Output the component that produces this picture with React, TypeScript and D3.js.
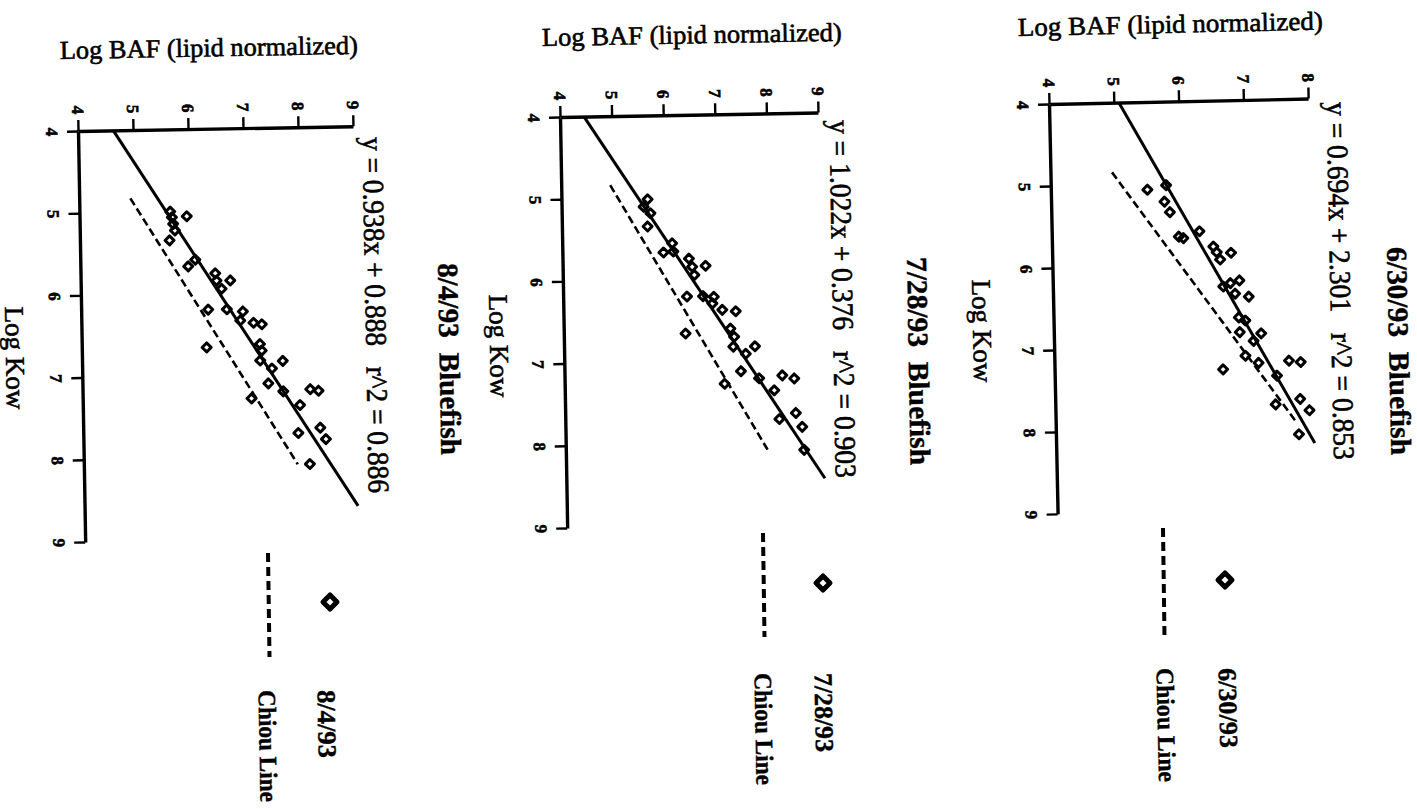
import React, { useRef, useEffect } from 'react';
import * as d3 from 'd3';

// axis ticks
const kowTicks = [4, 5, 6, 7, 8, 9];
const bafTicksTo9 = [4, 5, 6, 7, 8, 9];
const bafTicksTo8 = [4, 5, 6, 7, 8];

// sampling dates (panel order left -> right)
const dates = ['8/4/93', '7/28/93', '6/30/93'];
const equations = [
  'y = 0.938x + 0.888   r^2 = 0.886',
  'y = 1.022x + 0.376   r^2 = 0.903',
  'y = 0.694x + 2.301   r^2 = 0.853',
];

// [log Kow, log BAF]
const points080493 = [
  [5.0, 5.65], [5.07, 5.68], [5.15, 5.7], [5.23, 5.73], [5.06, 5.95], [5.35, 5.63],
  [5.59, 6.09], [5.67, 5.96], [5.76, 6.45], [5.85, 6.47], [5.85, 6.72], [5.95, 6.56],
  [6.2, 6.65], [6.2, 6.31], [6.23, 6.94], [6.34, 6.89], [6.37, 7.13], [6.39, 7.28],
  [6.66, 6.27], [6.63, 7.24], [6.71, 7.27], [6.83, 7.24], [6.84, 7.65], [6.93, 7.45],
  [7.11, 7.38], [7.21, 7.65], [7.19, 8.14], [7.21, 8.29], [7.38, 7.95], [7.29, 7.07],
  [7.72, 7.91], [7.66, 8.31], [7.8, 8.41], [8.1, 8.11],
];
const points072893 = [
  [5.02, 5.67], [5.11, 5.59], [5.19, 5.72], [5.35, 5.66], [5.56, 6.13], [5.66, 6.15],
  [5.67, 5.96], [5.75, 6.45], [5.85, 6.51], [5.84, 6.77], [5.95, 6.55], [6.21, 6.4],
  [6.21, 6.71], [6.22, 6.92], [6.3, 6.89], [6.38, 7.08], [6.4, 7.34], [6.66, 6.36],
  [6.61, 7.23], [6.71, 7.3], [6.83, 7.28], [6.92, 7.52], [6.83, 7.7], [7.13, 7.42],
  [7.28, 7.1], [7.22, 7.77], [7.37, 8.06], [7.19, 8.22], [7.23, 8.45], [7.72, 8.15],
  [7.65, 8.47], [7.82, 8.59], [8.1, 8.62],
];
const points063093 = [
  [5.07, 5.49], [5.02, 5.78], [5.22, 5.75], [5.35, 5.83], [5.65, 5.96], [5.67, 6.03],
  [5.59, 6.28], [5.78, 6.49], [5.85, 6.54], [5.94, 6.59], [5.86, 6.76], [6.27, 6.63],
  [6.23, 6.74], [6.2, 6.88], [6.36, 6.81], [6.4, 7.02], [6.65, 6.86], [6.69, 6.96],
  [6.83, 6.87], [6.94, 7.08], [6.85, 7.2], [7.12, 6.95], [7.21, 7.15], [7.28, 6.6],
  [7.19, 7.62], [7.21, 7.8], [7.37, 7.43], [7.72, 7.4], [7.66, 7.78], [7.8, 7.92],
  [8.09, 7.75],
];

// regression [slope, intercept] and the log Kow span of the drawn line
const fits = [[0.938, 0.888], [1.022, 0.376], [0.694, 2.301]];
const fitSpans = [[4, 8.62], [4, 8.45], [4, 8.2]];

// Chiou line ends [log Kow, log BAF]
const chiou080493 = [[4.83, 4.93], [8.1, 7.89]];
const chiou072893 = [[4.84, 4.95], [8.09, 7.91]];
const chiou063093 = [[4.85, 4.95], [7.96, 7.73]];

const W = 1417;
const H = 809;
const serif = '"Liberation Serif", "Times New Roman", serif';

const panels = [
  {
    points: points080493, chiou: chiou080493, bafTicks: bafTicksTo9,
    ox: 78, oy: 131, bafStep: 55, kowStep: 82.2, tilt: -1,
    bafTitle: [60, 59, 298], kowTitle: [15, 358], eq: [373, 137, 356], title: [448, 263, 192],
    mark: [330, 602], dash: [268, 553, 657], dateText: [326, 690, 68], chiouText: [267, 690, 112],
  },
  {
    points: points072893, chiou: chiou072893, bafTicks: bafTicksTo9,
    ox: 560, oy: 117, bafStep: 51.6, kowStep: 82.2, tilt: -1,
    bafTitle: [542, 46, 300], kowTitle: [499, 346], eq: [840, 120, 358], title: [917, 257, 208],
    mark: [823, 583], dash: [763, 533, 637], dateText: [823, 673, 79], chiouText: [763, 673, 112],
  },
  {
    points: points063093, chiou: chiou063093, bafTicks: bafTicksTo8,
    ox: 1049, oy: 104, bafStep: 64.8, kowStep: 82, tilt: -1.2,
    bafTitle: [1018, 36, 305], kowTitle: [982, 331], eq: [1337, 102, 358], title: [1397, 247, 208],
    mark: [1225, 580], dash: [1163, 528, 637], dateText: [1227, 668, 80], chiouText: [1165, 668, 114],
  },
];

const diamond = (r: number) => `M0,${-r}L${r},0L0,${r}L${-r},0Z`;

const App = () => {
  const ref = useRef<SVGSVGElement>(null);

  useEffect(() => {
    const svg = d3.select(ref.current);
    svg.selectAll('*').remove();
    svg.append('rect').attr('width', W).attr('height', H).attr('fill', '#fff');

    // rotated text, reading top to bottom
    const vText = (s: string, x: number, y: number, size: number, len: number | null, tilt: number, bold = false, anchor = 'start') => {
      const t = svg.append('text')
        .attr('transform', `translate(${x},${y}) rotate(${90 + tilt})`)
        .attr('dominant-baseline', 'central')
        .attr('text-anchor', anchor)
        .attr('font-family', serif)
        .attr('font-size', size)
        .attr('font-weight', bold ? 'bold' : 'normal')
        .attr('fill', '#000')
        .attr('stroke', '#000')
        .attr('stroke-width', bold ? 0.4 : 0.6)
        .style('white-space', 'pre')
        .text(s);
      if (len) t.attr('textLength', len).attr('lengthAdjust', 'spacingAndGlyphs');
    };

    panels.forEach((p, i) => {
      const bafMax = p.bafTicks[p.bafTicks.length - 1];
      const x = d3.scaleLinear().domain([4, bafMax]).range([0, (bafMax - 4) * p.bafStep]);
      const y = d3.scaleLinear().domain([4, 9]).range([0, 5 * p.kowStep]);

      const g = svg.append('g')
        .attr('transform', `translate(${p.ox},${p.oy}) rotate(${p.tilt})`);

      const top = g.append('g')
        .call(d3.axisTop(x).tickValues(p.bafTicks).tickSize(11).tickSizeOuter(0).tickFormat(d3.format('d')));
      const left = g.append('g')
        .call(d3.axisLeft(y).tickValues(kowTicks).tickSize(11).tickSizeOuter(0).tickFormat(d3.format('d')));

      [top, left].forEach((ax, k) => {
        ax.attr('font-family', serif).attr('font-size', 17).attr('font-weight', 'bold');
        ax.select('.domain').attr('stroke', '#000').attr('stroke-width', 3.4);
        ax.selectAll('.tick line').attr('stroke', '#000').attr('stroke-width', 2.4);
        ax.selectAll('.tick text')
          .attr('x', 0).attr('y', 0).attr('dy', '0.35em')
          .attr('text-anchor', 'middle')
          .attr('fill', '#000')
          .attr('stroke', '#000').attr('stroke-width', 0.6)
          .attr('transform', k === 0 ? 'translate(0,-21) rotate(90)' : 'translate(-26,0) rotate(90)');
      });

      const line = d3.line<number[]>().x((d) => x(d[1])).y((d) => y(d[0]));

      const [slope, intercept] = fits[i];
      const fitPts = fitSpans[i].map((k) => [k, slope * k + intercept]);
      g.append('path')
        .attr('d', line(fitPts))
        .attr('fill', 'none').attr('stroke', '#000').attr('stroke-width', 3);

      g.append('path')
        .attr('d', line(p.chiou))
        .attr('fill', 'none').attr('stroke', '#000').attr('stroke-width', 2.6)
        .attr('stroke-dasharray', '8,4');

      g.selectAll('path.pt')
        .data(p.points)
        .enter()
        .append('path')
        .attr('class', 'pt')
        .attr('transform', (d) => `translate(${x(d[1])},${y(d[0])})`)
        .attr('d', diamond(4.5))
        .attr('fill', 'none')
        .attr('stroke', '#000')
        .attr('stroke-width', 3)
        .attr('stroke-linejoin', 'round');

      // titles
      svg.append('text')
        .attr('transform', `translate(${p.bafTitle[0]},${p.bafTitle[1]}) rotate(${p.tilt})`)
        .attr('font-family', serif).attr('font-size', 26)
        .attr('fill', '#000').attr('stroke', '#000').attr('stroke-width', 0.6)
        .attr('textLength', p.bafTitle[2]).attr('lengthAdjust', 'spacingAndGlyphs')
        .text('Log BAF (lipid normalized)');

      vText('Log Kow', p.kowTitle[0], p.kowTitle[1], 27, null, p.tilt, false, 'middle');
      vText(equations[i], p.eq[0], p.eq[1], 30, p.eq[2], p.tilt);
      vText(`${dates[i]}  Bluefish`, p.title[0], p.title[1], 29, p.title[2], p.tilt, true);

      // legend
      svg.append('path')
        .attr('transform', `translate(${p.mark[0]},${p.mark[1]})`)
        .attr('d', diamond(7))
        .attr('fill', 'none').attr('stroke', '#000').attr('stroke-width', 5)
        .attr('stroke-linejoin', 'round');
      svg.append('line')
        .attr('x1', p.dash[0]).attr('y1', p.dash[1])
        .attr('x2', p.dash[0] + 1.5).attr('y2', p.dash[2])
        .attr('stroke', '#000').attr('stroke-width', 4)
        .attr('stroke-dasharray', '9,5');
      vText(dates[i], p.dateText[0], p.dateText[1], 26, p.dateText[2], p.tilt, true);
      vText('Chiou Line', p.chiouText[0], p.chiouText[1], 25, p.chiouText[2], p.tilt, true);
    });
  }, []);

  return (
    <svg ref={ref} width={W} height={H}
      style={{ position: 'absolute', left: 0, top: 0, display: 'block' }} />
  );
};

export default App;
